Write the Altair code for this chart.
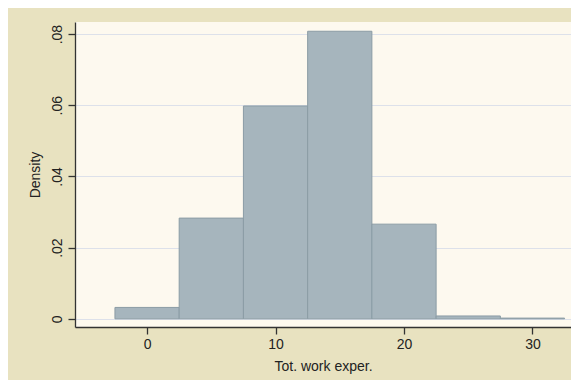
import altair as alt
import pandas as pd

bin_start = [-2.5, 2.5, 7.5, 12.5, 17.5, 22.5, 27.5]
bin_end = [2.5, 7.5, 12.5, 17.5, 22.5, 27.5, 32.5]
density = [0.0032, 0.0283, 0.0598, 0.0808, 0.0266, 0.0008, 0.0002]

x_ticks = [0, 10, 20, 30]
y_ticks = [0, 0.02, 0.04, 0.06, 0.08]

df = pd.DataFrame({"start": bin_start, "end": bin_end, "density": density, "zero": [0.0] * len(density)})

FONT = "Liberation Sans"

chart = alt.Chart(df).mark_rect(
    fill="#a6b5bd", stroke="#8b9ca5", strokeWidth=1
).encode(
    x=alt.X("start:Q",
            scale=alt.Scale(domain=[-5.61, 33.0], nice=False, zero=False),
            axis=alt.Axis(values=x_ticks, title="Tot. work exper.", grid=False,
                          tickSize=7, labelPadding=3, titlePadding=8,
                          labelFontSize=14, titleFontSize=14, format="d")),
    x2="end:Q",
    y=alt.Y("zero:Q",
            scale=alt.Scale(domain=[-0.0023, 0.0834], nice=False, zero=False),
            axis=alt.Axis(values=y_ticks, title="Density", grid=True,
                          gridColor="#dde1ea", gridWidth=1.2,
                          tickSize=7, labelAngle=270, labelAlign="center",
                          labelBaseline="bottom", labelPadding=4,
                          titlePadding=8, labelFontSize=14, titleFontSize=14,
                          labelExpr="datum.value == 0 ? '0' : replace(format(datum.value, '.2f'), '0.', '.')")),
    y2="density:Q",
).properties(
    width=496, height=305,
    autosize=alt.AutoSizeParams(type="none"),
    padding={"left": 67, "top": 14, "right": 0, "bottom": 53},
    background="#e8e2c0",
).configure_view(
    fill="#fdf9ef", stroke=None
).configure_axis(
    domainColor="#333333", domainWidth=1.3, tickColor="#333333", tickWidth=1.3,
    labelColor="#222222", titleColor="#222222", labelFont=FONT, titleFont=FONT,
    titleFontWeight="normal"
)

chart.save("out.html", embed_options={"renderer": "svg", "actions": False})
